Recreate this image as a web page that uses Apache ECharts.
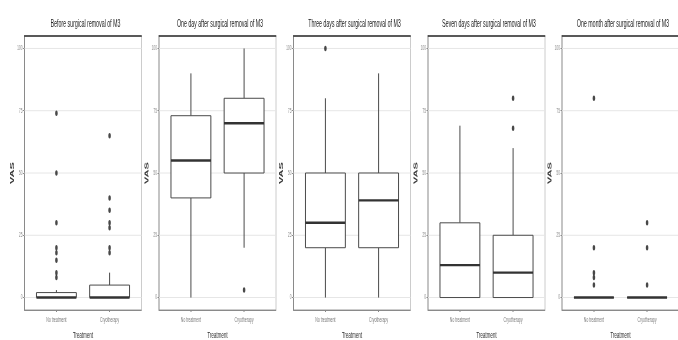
<!DOCTYPE html>
<html>
<head>
<meta charset="utf-8">
<title>VAS by treatment</title>
<script src="https://cdn.jsdelivr.net/npm/echarts@6/dist/echarts.min.js"></script>
<style>
  html, body { margin: 0; padding: 0; background: #fff; overflow: hidden; }
  #frame { width: 678px; height: 340px; overflow: hidden; position: relative; }
  /* the chart is laid out twice as wide, then squeezed horizontally */
  #chart { width: 1356px; height: 340px; transform: scaleX(0.5); transform-origin: 0 0; }
</style>
</head>
<body>
<div id="frame"><div id="chart"></div></div>
<script>
// ---- data -------------------------------------------------------------
const panelTitles = [
  'Before surgical removal of M3',
  'One day after surgical removal of M3',
  'Three days after surgical removal of M3',
  'Seven days after surgical removal of M3',
  'One month after surgical removal of M3'
];
const groups = ['No treatment', 'Cryotherapy'];
const yTicks = [0, 25, 50, 75, 100];

// five-number summaries per panel: [lower whisker, Q1, median, Q3, upper whisker]
const noTreatmentBoxes = [
  [0, 0, 0, 2, 3],
  [0, 40, 55, 73, 90],
  [0, 20, 30, 50, 80],
  [0, 0, 13, 30, 69],
  [0, 0, 0, 0, 0]
];
const cryotherapyBoxes = [
  [0, 0, 0, 5, 10],
  [20, 50, 70, 80, 100],
  [0, 20, 39, 50, 90],
  [0, 0, 10, 25, 60],
  [0, 0, 0, 0, 0]
];
// outlying VAS scores per panel
const noTreatmentOutliers = [
  [74, 50, 30, 20, 18, 15, 10, 8],
  [],
  [100],
  [],
  [80, 20, 10, 8, 5]
];
const cryotherapyOutliers = [
  [65, 40, 35, 30, 28, 20, 18],
  [3],
  [],
  [80, 68],
  [30, 20, 5]
];

// ---- layout (in the unsqueezed 1356px-wide space) ----------------------
const panelLeft = [49, 318, 587, 856, 1124];
const panelWidth = 234;
const panelTop = 36;
const panelHeight = 274;
const FONT = 'Liberation Sans, Arial, Helvetica, sans-serif';

function renderBox(params, api) {
  const x = api.value(0);
  const lo = api.value(1), q1 = api.value(2), med = api.value(3), q3 = api.value(4), hi = api.value(5);
  const hw = 0.375;
  const xl = api.coord([x - hw, q1])[0];
  const xr = api.coord([x + hw, q1])[0];
  const cx = api.coord([x, q1])[0];
  const yLo = api.coord([x, lo])[1];
  const yQ1 = api.coord([x, q1])[1];
  const yMed = api.coord([x, med])[1];
  const yQ3 = api.coord([x, q3])[1];
  const yHi = api.coord([x, hi])[1];
  const stroke = '#4a4a4a';
  const line = (x1, y1, x2, y2, w, c) => ({
    type: 'line',
    shape: { x1, y1, x2, y2 },
    style: { stroke: c || stroke, lineWidth: w }
  });
  return {
    type: 'group',
    children: [
      line(cx, yQ3, cx, yHi, 2),
      line(cx, yLo, cx, yQ1, 2),
      { type: 'rect', shape: { x: xl, y: yQ3, width: xr - xl, height: yQ1 - yQ3 }, style: { fill: '#fff' } },
      line(xl, yQ3, xr, yQ3, 1),
      line(xl, yQ1, xr, yQ1, 1),
      line(xl, yQ3, xl, yQ1, 2),
      line(xr, yQ3, xr, yQ1, 2),
      line(xl, yMed, xr, yMed, 2.4, '#333')
    ]
  };
}

function renderGridLine(params, api) {
  const y = api.coord([1, api.value(1)])[1];
  const cs = params.coordSys;
  return {
    type: 'line',
    shape: { x1: cs.x, y1: y, x2: cs.x + cs.width, y2: y },
    style: { stroke: '#e6e6e6', lineWidth: 1 }
  };
}

const grids = [], xAxes = [], yAxes = [], titles = [], series = [];

panelTitles.forEach((title, i) => {
  grids.push({
    left: panelLeft[i], top: panelTop, width: panelWidth, height: panelHeight,
    outerBoundsMode: 'none', containLabel: false,
    show: true, borderColor: '#9a9a9a', borderWidth: 1, backgroundColor: 'transparent'
  });
  titles.push({
    text: title,
    left: panelLeft[i] + panelWidth / 2,
    top: 14,
    textAlign: 'center',
    textStyle: { fontFamily: FONT, fontSize: 10.5, fontWeight: 'normal', color: '#222' }
  });
  // bottom axis with group labels
  xAxes.push({
    type: 'value', gridIndex: i, min: 0.4, max: 2.6, position: 'bottom',
    name: 'Treatment', nameLocation: 'middle', nameGap: 21,
    nameTextStyle: { fontFamily: FONT, fontSize: 9, color: '#333' },
    axisLine: { show: true, onZero: false, lineStyle: { color: '#8a8a8a', width: 1 } },
    axisTick: { show: true, length: 2, customValues: [1, 2], lineStyle: { color: '#8a8a8a', width: 2 } },
    axisLabel: {
      customValues: [1, 2], margin: 7,
      formatter: v => groups[Math.round(v) - 1] || '',
      fontFamily: FONT, fontSize: 7, color: '#7a7a7a'
    },
    splitLine: { show: false }
  });
  // dark top edge of the panel
  xAxes.push({
    type: 'value', gridIndex: i, min: 0.4, max: 2.6, position: 'top',
    axisLine: { show: true, onZero: false, lineStyle: { color: '#333', width: 1.6 } },
    axisTick: { show: false }, axisLabel: { show: false }, splitLine: { show: false }
  });
  yAxes.push({
    type: 'value', gridIndex: i, min: -5, max: 105,
    name: 'VAS', nameLocation: 'middle', nameGap: 15,
    nameTextStyle: { fontFamily: FONT, fontSize: 11, fontWeight: 'bold', color: '#3a3a3a' },
    axisLine: { show: true, onZero: false, lineStyle: { color: '#8a8a8a', width: 2 } },
    axisTick: { show: true, length: 3, customValues: yTicks, lineStyle: { color: '#8a8a8a', width: 1 } },
    axisLabel: { customValues: yTicks, margin: 4, fontFamily: FONT, fontSize: 6.5, color: '#8a8a8a' },
    splitLine: { show: false }
  });

  const xi = i * 2;
  series.push({
    type: 'custom', xAxisIndex: xi, yAxisIndex: i, z: 1, silent: true,
    renderItem: renderGridLine,
    encode: { x: 0, y: 1 },
    data: yTicks.map(v => [1, v])
  });
  series.push({
    type: 'custom', xAxisIndex: xi, yAxisIndex: i, z: 2, silent: true,
    renderItem: renderBox,
    encode: { x: 0, y: [1, 2, 3, 4, 5] },
    data: [
      [1].concat(noTreatmentBoxes[i]),
      [2].concat(cryotherapyBoxes[i])
    ]
  });
  series.push({
    type: 'scatter', xAxisIndex: xi, yAxisIndex: i, z: 3, silent: true,
    symbol: 'circle', symbolSize: [5, 5.5],
    itemStyle: { color: '#1a1a1a' },
    data: noTreatmentOutliers[i].map(v => [1, v])
      .concat(cryotherapyOutliers[i].map(v => [2, v]))
  });
});

const chart = echarts.init(document.getElementById('chart'), null, { renderer: 'canvas', width: 1356, height: 340 });
chart.setOption({
  animation: false,
  backgroundColor: '#fff',
  title: titles,
  grid: grids,
  xAxis: xAxes,
  yAxis: yAxes,
  series: series
});
</script>
</body>
</html>
